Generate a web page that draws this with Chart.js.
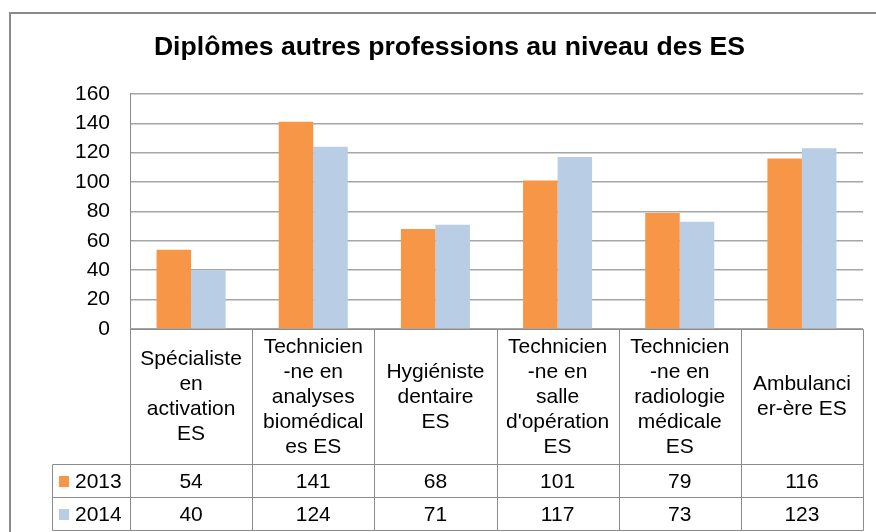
<!DOCTYPE html>
<html><head><meta charset="utf-8">
<script src="https://cdn.jsdelivr.net/npm/chart.js@4/dist/chart.umd.min.js"></script>
<style>html,body{margin:0;padding:0;background:#fff}#wrap{width:876px;height:532px;position:relative}canvas{display:block}</style>
</head><body><div id="wrap"><canvas id="c" width="876" height="532"></canvas></div>
<script>
const chartTitle = 'Diplômes autres professions au niveau des ES';
const categories = [
  ['Spécialiste', 'en', 'activation', 'ES'],
  ['Technicien', '-ne en', 'analyses', 'biomédical', 'es ES'],
  ['Hygiéniste', 'dentaire', 'ES'],
  ['Technicien', '-ne en', 'salle', "d'opération", 'ES'],
  ['Technicien', '-ne en', 'radiologie', 'médicale', 'ES'],
  ['Ambulanci', 'er-ère ES']
];
const seriesNames = ['2013', '2014'];
const values2013 = [54, 141, 68, 101, 79, 116];
const values2014 = [40, 124, 71, 117, 73, 123];
const yMin = 0, yMax = 160, yStep = 20;

const FONT = '"Liberation Sans", Arial, sans-serif';
const colors = ['#F79646', '#B9CDE5'];

const frame = {
  id: 'frame',
  beforeDraw(chart) {
    const ctx = chart.ctx;
    ctx.save();
    ctx.fillStyle = '#fff';
    ctx.fillRect(0, 0, chart.width, chart.height);
    ctx.strokeStyle = '#8a8a8a';
    ctx.lineWidth = 2;
    ctx.strokeRect(10, 13, chart.width + 20, chart.height + 20);
    ctx.restore();
  }
};

const dataTable = {
  id: 'dataTable',
  afterDraw(chart) {
    const ctx = chart.ctx;
    const a = chart.chartArea;
    const x = chart.scales.x, y = chart.scales.y;
    const n = categories.length;
    const cw = x.getPixelForValue(1) - x.getPixelForValue(0);
    const top = Math.round(y.getPixelForValue(0)) + 0.5;
    const headH = 135, rowH = 33;
    const r1 = top + headH, r2 = r1 + rowH, r3 = r2 + rowH;
    const legL = 52.5;
    const left = Math.round(a.left) + 0.5, right = Math.round(a.right) + 0.5;
    ctx.save();
    ctx.strokeStyle = '#8c8c8c';
    ctx.lineWidth = 1;
    ctx.beginPath();
    ctx.moveTo(left, top); ctx.lineTo(right, top);
    [r1, r2, r3].forEach(v => { ctx.moveTo(legL, v); ctx.lineTo(right, v); });
    for (let i = 0; i <= n; i++) {
      const bx = Math.round(x.getPixelForValue(i) - cw / 2) + 0.5;
      ctx.moveTo(bx, top); ctx.lineTo(bx, r3);
    }
    ctx.moveTo(legL, r1); ctx.lineTo(legL, r3);
    ctx.stroke();

    ctx.fillStyle = '#000';
    ctx.font = '21px ' + FONT;
    ctx.textAlign = 'center';
    ctx.textBaseline = 'middle';
    const lh = 25;
    categories.forEach((lines, i) => {
      const cx = x.getPixelForValue(i);
      const start = top + (headH - lines.length * lh) / 2 + lh / 2;
      lines.forEach((t, k) => ctx.fillText(t, cx, start + k * lh));
    });
    const rows = [values2013, values2014];
    const rowY = [(r1 + r2) / 2, (r2 + r3) / 2];
    rows.forEach((vals, r) => {
      vals.forEach((v, i) => ctx.fillText(String(v), x.getPixelForValue(i), rowY[r] + 1));
      ctx.fillStyle = colors[r];
      ctx.fillRect(59, rowY[r] - 5, 10, 11);
      ctx.fillStyle = '#000';
      ctx.textAlign = 'left';
      ctx.fillText(seriesNames[r], 75, rowY[r] + 1);
      ctx.textAlign = 'center';
    });
    ctx.restore();
  }
};

new Chart(document.getElementById('c'), {
  type: 'bar',
  data: {
    labels: categories,
    datasets: [
      { label: seriesNames[0], data: values2013, backgroundColor: colors[0], borderWidth: 0 },
      { label: seriesNames[1], data: values2014, backgroundColor: colors[1], borderWidth: 0 }
    ]
  },
  options: {
    responsive: false,
    maintainAspectRatio: false,
    animation: false,
    devicePixelRatio: 1,
    layout: { padding: { left: 36, right: 13, top: 0, bottom: 203 } },
    datasets: { bar: { categoryPercentage: 0.565, barPercentage: 1 } },
    plugins: {
      legend: { display: false },
      tooltip: { enabled: false },
      title: {
        display: true,
        text: chartTitle,
        color: '#000',
        font: { family: FONT, size: 26.6, weight: 'bold', lineHeight: 1.2 },
        padding: { top: 32, bottom: 30 }
      }
    },
    scales: {
      x: {
        display: false
      },
      y: {
        min: yMin, max: yMax,
        afterFit(s) { s.width = 94; },
        ticks: { stepSize: yStep, color: '#000', padding: 20, font: { family: FONT, size: 21 } },
        grid: { color: '#a6a6a6', lineWidth: 1.5, drawTicks: false },
        border: { display: true, color: '#8c8c8c', width: 1 }
      }
    }
  },
  plugins: [frame, dataTable]
});
</script>
</body></html>
